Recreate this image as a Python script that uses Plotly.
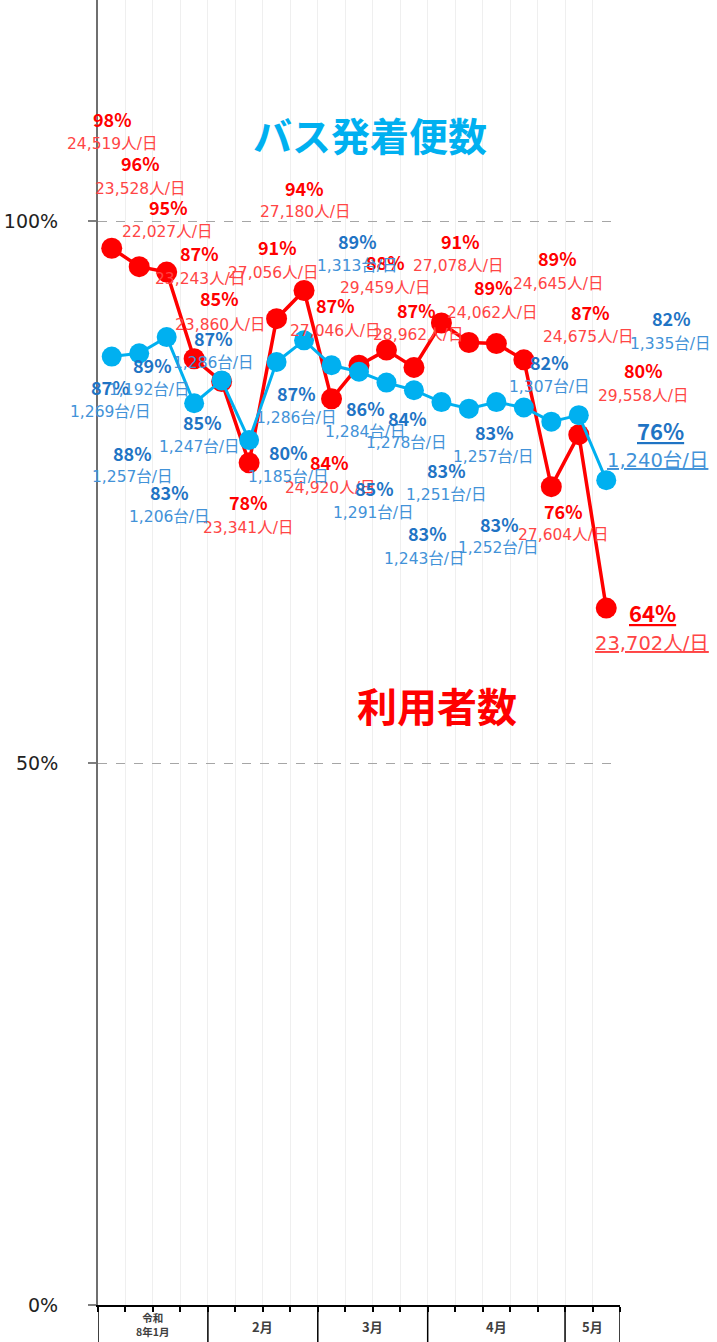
import plotly.graph_objects as go

# ---------------- data ----------------
weeks = list(range(19))
month_labels = ["令和<br>8年1月", "2月", "3月", "4月", "5月"]
month_weeks = [4, 4, 4, 5, 2]

users_pct = [97.5, 95.8, 95.3, 87.3, 85.2, 77.7, 91.0, 93.6, 83.6, 86.7,
             88.1, 86.5, 90.6, 88.8, 88.7, 87.2, 75.5, 80.3, 64.3]
users_label = [98, 96, 95, 87, 85, 78, 91, 94, 84, 87,
               88, 87, 91, 89, 89, 87, 76, 80, 64]
users_count = [24519, 23528, 22027, 23243, 23860, 23341, 27056, 27180, 24920, 27046,
               29459, 28962, 27078, 24062, 24645, 24675, 27604, 29558, 23702]

bus_pct = [87.5, 87.8, 89.3, 83.2, 85.3, 79.8, 87.0, 89.0, 86.7, 86.1,
           85.1, 84.4, 83.3, 82.7, 83.3, 82.8, 81.5, 82.1, 76.1]
bus_label = [87, 88, 89, 83, 85, 80, 87, 89, 87, 86,
             85, 84, 83, 83, 83, 83, 82, 82, 76]
bus_count = [1269, 1257, 1192, 1206, 1247, 1185, 1286, 1313, 1286, 1284,
             1291, 1278, 1251, 1243, 1257, 1252, 1307, 1335, 1240]

y_ticks = [0, 50, 100]

# ---------------- label layout (positions of data labels, in week / % units) ----------------
users_lab_pos = [  # (pct x, pct y, count x, count y)
    (0.01, 109.4, 0.01, 107.1), (1.03, 105.4, 1.03, 103.0), (2.05, 101.3, 2.01, 99.0),
    (3.21, 97.1, 3.21, 94.7), (3.94, 92.9, 3.94, 90.4), (4.96, 74.1, 4.96, 71.7),
    (6.02, 97.6, 5.87, 95.2), (7.03, 103.1, 7.03, 100.8), (7.94, 77.8, 7.94, 75.4),
    (8.13, 92.3, 8.13, 89.9), (9.95, 96.2, 9.95, 93.8), (11.11, 91.8, 11.15, 89.5),
    (12.68, 98.2, 12.6, 95.9), (13.88, 93.9, 13.85, 91.5), (16.24, 96.6, 16.24, 94.2),
    (17.41, 91.6, 17.33, 89.3), (16.43, 73.3, 16.43, 71.0), (19.34, 86.3, 19.34, 83.9),
    (19.70, 63.9, 19.66, 61.0),
]
bus_lab_pos = [
    (-0.06, 84.7, -0.06, 82.4), (0.74, 78.6, 0.74, 76.4), (1.47, 86.7, 1.39, 84.4),
    (2.12, 75.0, 2.12, 72.7), (3.29, 81.5, 3.21, 79.2), (6.42, 78.7, 6.42, 76.4),
    (6.74, 84.1, 6.74, 81.8), (8.96, 98.2, 8.93, 95.9), (3.69, 89.2, 3.69, 86.9),
    (9.22, 82.8, 9.22, 80.5), (9.58, 75.4, 9.51, 73.1), (10.78, 81.8, 10.74, 79.5),
    (12.2, 77.0, 12.2, 74.7), (11.48, 71.2, 11.4, 68.8), (13.95, 80.5, 13.88, 78.2),
    (14.13, 72.1, 14.06, 69.8), (15.95, 87.0, 15.95, 84.7), (20.39, 91.1, 20.32, 88.7),
    (19.96, 80.7, 19.88, 77.9),
]

RED = "#ff0000"
RED_LIGHT = "#ff4545"
BLUE = "#00b0f0"
BLUE_DARK = "#1f74c4"
BLUE_LIGHT = "#4292d8"
JP = "Noto Sans CJK JP"
NUM = "DejaVu Sans, Noto Sans CJK JP"

W, H = 717, 1342
ML, MR, MT, MB = 98, 97, 0, 37
plot_h = H - MT - MB
y_max = 120.4
n = len(weeks)


def xp(v):
    """week-index position -> paper fraction (so labels beyond the last week still show)"""
    return (v + 0.5) / n


def label(x, y, text, size, color, family=JP, yref="y"):
    return dict(x=xp(x), y=y, xref="paper", yref=yref, text=text, showarrow=False,
                xanchor="center", yanchor="middle",
                font=dict(family=family, size=size, color=color))


fig = go.Figure()

fig.add_trace(go.Scatter(
    x=weeks, y=users_pct, mode="lines+markers", name="利用者数",
    line=dict(color=RED, width=3.5),
    marker=dict(color=RED, size=21),
    hoverinfo="skip",
))
fig.add_trace(go.Scatter(
    x=weeks, y=bus_pct, mode="lines+markers", name="バス発着便数",
    line=dict(color=BLUE, width=3),
    marker=dict(color=BLUE, size=20),
    hoverinfo="skip",
))

ann = []
for i in range(n):
    px, py, cx, cy = users_lab_pos[i]
    last = i == n - 1
    pct_txt = f"<b>{users_label[i]}%</b>"
    cnt_txt = f"{users_count[i]:,}人/日"
    if last:
        pct_txt = f"<u>{pct_txt}</u>"
        cnt_txt = f"<u>{cnt_txt}</u>"
    ann.append(label(px, py, pct_txt, 22 if last else 18, RED))
    ann.append(label(cx, cy, cnt_txt, 19.5 if last else 15.5, RED_LIGHT, NUM))
for i in range(n):
    px, py, cx, cy = bus_lab_pos[i]
    last = i == n - 1
    pct_txt = f"<b>{bus_label[i]}%</b>"
    cnt_txt = f"{bus_count[i]:,}台/日"
    if last:
        pct_txt = f"<u>{pct_txt}</u>"
        cnt_txt = f"<u>{cnt_txt}</u>"
    ann.append(label(px, py, pct_txt, 22 if last else 18, BLUE_DARK))
    ann.append(label(cx, cy, cnt_txt, 19.5 if last else 15.5, BLUE_LIGHT, NUM))

# series titles
ann.append(label(9.4, 108.0, "<b>バス発着便数</b>", 39, BLUE))
ann.append(label(11.85, 55.4, "<b>利用者数</b>", 40, RED))

# month group labels and separators below the x axis
shapes = []
start = -0.5
bottom = -MB / plot_h
shapes.append(dict(type="line", xref="x", yref="paper", x0=start, x1=start, y0=0, y1=bottom,
                   line=dict(color="#000", width=1.5)))
for lab, cnt in zip(month_labels, month_weeks):
    end = start + cnt
    shapes.append(dict(type="line", xref="x", yref="paper", x0=end, x1=end, y0=0, y1=bottom,
                       line=dict(color="#000", width=1.5)))
    small = "<br>" in lab
    ann.append(label((start + end) / 2, (-21 / plot_h) if not small else (-19 / plot_h),
                     f"<b>{lab}</b>", 10.5 if small else 13, "#404040", yref="paper"))
    start = end

fig.update_layout(
    width=W, height=H,
    margin=dict(l=ML, r=MR, t=MT, b=MB),
    paper_bgcolor="white", plot_bgcolor="white",
    showlegend=False,
    annotations=ann,
    shapes=shapes,
    xaxis=dict(
        range=[-0.5, n - 0.5],
        tickmode="array",
        tickvals=[k - 0.5 for k in range(n + 1)],
        ticktext=["" for _ in range(n + 1)],
        showgrid=True, gridcolor="#efefef", gridwidth=1,
        showline=True, linecolor="#000", linewidth=2,
        ticks="outside", ticklen=5, tickcolor="#000", tickwidth=1.5,
        zeroline=False, fixedrange=True,
    ),
    yaxis=dict(
        range=[0, y_max],
        tickmode="array",
        tickvals=y_ticks,
        ticktext=[f"{v}%" for v in y_ticks],
        ticks="outside", ticklen=8, tickcolor="#7f7f7f", tickwidth=1.5,
        ticklabelstandoff=26,
        tickfont=dict(family="DejaVu Sans", size=19, color="#222"),
        showgrid=True, gridcolor="#a6a6a6", griddash="dash", gridwidth=1,
        showline=True, linecolor="#6f6f6f", linewidth=2,
        zeroline=False, fixedrange=True,
    ),
)

fig.write_html(
    "out.html",
    config={"displayModeBar": False},
    post_script="document.body.style.margin='0';document.body.style.overflow='hidden';",
)
